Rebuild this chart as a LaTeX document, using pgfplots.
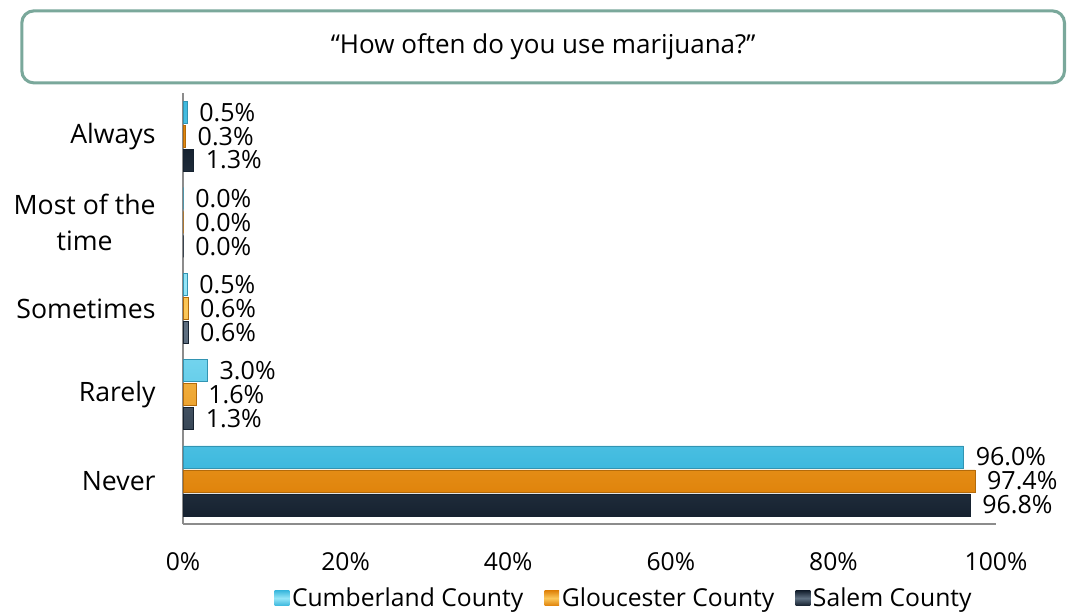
\documentclass[border=0pt]{standalone}
\usepackage{pgfplots}
\pgfplotsset{compat=1.18}
\usepackage{fontspec}
\setmainfont{Open Sans}
\definecolor{boxc}{RGB}{122,168,155}
\definecolor{cumA}{RGB}{62,185,222}
\definecolor{cumB}{RGB}{150,230,248}
\definecolor{gloA}{RGB}{224,132,12}
\definecolor{gloB}{RGB}{252,200,90}
\definecolor{salA}{RGB}{22,34,48}
\definecolor{salB}{RGB}{95,112,130}
\definecolor{axc}{RGB}{140,140,140}
\pgfplotstableread{
y cum glo sal
0 96.0 97.4 96.8
1 3.0 1.6 1.3
2 0.5 0.6 0.6
3 0.0 0.0 0.0
4 0.5 0.3 1.3
}\datatable
\begin{document}
\begin{tikzpicture}
\path (0,0) rectangle (801pt,459.75pt);
\begin{axis}[
  at={(137.25pt,66.75pt)}, anchor=south west,
  scale only axis, width=609.75pt, height=323.25pt,
  xbar, bar width=16.5pt,
  xmin=0, xmax=100, ymin=-0.5, ymax=4.5,
  axis x line*=bottom, axis y line*=left,
  axis line style={axc, line width=1.2pt},
  xtick={0,20,40,60,80,100},
  xticklabel={\pgfmathprintnumber{\tick}\%},
  /pgf/number format/assume math mode=true,
  ytick={0,1,2,3,4},
  yticklabels={Never,Rarely,Sometimes,{Most of the\\time},Always},
  yticklabel style={align=center, font=\fontsize{20}{27.5}\selectfont, xshift=-17pt},
  xticklabel style={font=\fontsize{18.5}{22}\selectfont, yshift=-18pt},
  major tick length=0pt,
  nodes near coords={\pgfmathprintnumber[fixed,fixed zerofill,precision=1]{\pgfplotspointmeta}\%},
  point meta=x,
  every node near coord/.append style={font=\fontsize{18.8}{20}\selectfont, anchor=west, xshift=9pt, inner sep=0pt, black},
  every axis title shift=0pt,
  title={“How often do you use marijuana?”},
  title style={at={(rel axis cs:0.443,1.107)}, anchor=center, draw=boxc, line width=2.3pt, rounded corners=9pt, minimum width=782pt, minimum height=54pt, font=\fontsize{19.5}{22}\selectfont},
  legend style={at={(rel axis cs:0.543,-0.172)}, anchor=center, draw=none, legend columns=3, font=\fontsize{18.5}{22}\selectfont, /tikz/every even column/.append style={column sep=14pt}},
  legend image code/.code={\draw[#1, draw=none] (0pt,-5.5pt) rectangle (11pt,5.5pt);},
  clip=false,
]
\addplot[draw=cumA!80!black, top color=cumA, bottom color=cumA, middle color=cumB, bar shift=18pt] table[x=cum, y=y] {\datatable};
\addplot[draw=gloA!80!black, top color=gloA, bottom color=gloA, middle color=gloB, bar shift=0pt] table[x=glo, y=y] {\datatable};
\addplot[draw=salA, top color=salA, bottom color=salA, middle color=salB, bar shift=-18pt] table[x=sal, y=y] {\datatable};
\legend{Cumberland County, Gloucester County, Salem County}
\end{axis}
\end{tikzpicture}
\end{document}
